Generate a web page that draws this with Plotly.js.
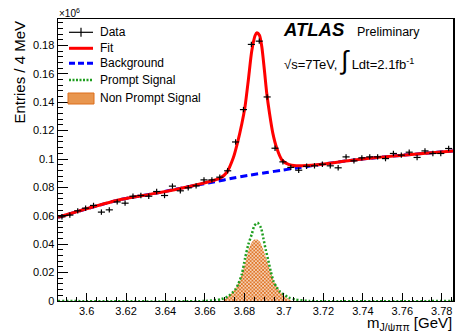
<!DOCTYPE html>
<html>
<head>
<meta charset="utf-8">
<script src="https://cdn.plot.ly/plotly-3.0.1.min.js"></script>
<style>html,body{margin:0;padding:0;background:#fff;}#chart{width:455px;height:331px;}</style>
</head>
<body>
<div id="chart"></div>
<script>
// ---- data (values in units of 10^6 entries) ----
const dataX = [3.5875,3.5915,3.5955,3.5995,3.6035,3.6075,3.6115,3.6155,3.6195,3.6235,
               3.6275,3.6315,3.6355,3.6395,3.6435,3.6475,3.6515,3.6555,3.6595,3.6635,
               3.6675,3.6715,3.6755,3.6795,3.6835,3.6875,3.6915,3.6955,3.6995,3.7035,
               3.7075,3.7115,3.7155,3.7195,3.7235,3.7275,3.7315,3.7355,3.7395,3.7435,
               3.7475,3.7515,3.7555,3.7595,3.7635,3.7675,3.7715,3.7755,3.7795,3.7835];
const dataY = [0.0593,0.0605,0.0635,0.0654,0.0673,0.0626,0.0642,0.0698,0.0689,0.0738,
               0.0743,0.0738,0.0771,0.0743,0.0809,0.0776,0.0797,0.0811,0.0853,0.0853,
               0.0872,0.0917,0.1120,0.1348,0.1807,0.1830,0.1437,0.1076,0.0980,0.0941,
               0.0921,0.0949,0.0952,0.0963,0.0952,0.0938,0.1015,0.0987,0.1008,0.1015,
               0.1015,0.1003,0.1039,0.1027,0.1048,0.1011,0.1057,0.1039,0.1039,0.1074];

const fitX = [3.5855,3.6009,3.6178,3.6347,3.6516,3.6620,3.6677,3.6710,3.6744,3.6764,
              3.6787,3.6803,3.6820,3.6837,3.6854,3.6863,3.6876,3.6888,3.6901,3.6913,
              3.6927,3.6944,3.6964,3.6989,3.7023,3.7062,3.7167,3.7336,3.7505,3.7674,3.7858];
const fitY = [0.0589,0.0653,0.0716,0.0758,0.0805,0.0840,0.0865,0.0905,0.1010,0.1110,
              0.1250,0.1370,0.1560,0.1760,0.1870,0.1889,0.1872,0.1790,0.1627,0.1463,
              0.1322,0.1181,0.1075,0.0995,0.0962,0.0953,0.0960,0.0990,0.1015,0.1035,0.1057];

const bgX = [3.5855,3.6009,3.6178,3.6347,3.6516,3.6651,3.6744,3.6830,3.6913,3.6989,
             3.7062,3.7167,3.7336,3.7505,3.7674,3.7858];
const bgY = [0.0589,0.0653,0.0716,0.0758,0.0805,0.0840,0.0866,0.0887,0.0905,0.0921,
             0.0936,0.0958,0.0990,0.1015,0.1035,0.1057];

const promptX = [3.5855,3.6600,3.6680,3.6720,3.6753,3.6769,3.6787,3.6803,3.6820,3.6837,
                 3.6850,3.6866,3.6884,3.6896,3.6908,3.6921,3.6933,3.6947,3.6964,3.6981,
                 3.7023,3.7060,3.7130,3.7858];
const promptY = [0,0,0.0012,0.0035,0.0080,0.0120,0.0190,0.0300,0.0400,0.0470,
                 0.0530,0.0551,0.0515,0.0440,0.0360,0.0285,0.0210,0.0140,0.0095,0.0065,
                 0.0025,0.0010,0,0];

const nonPromptX = [3.6690,3.6720,3.6744,3.6769,3.6787,3.6803,3.6817,3.6829,3.6845,3.6863,
                    3.6879,3.6896,3.6913,3.6930,3.6947,3.6972,3.7006,3.7040];
const nonPromptY = [0,0.0035,0.0070,0.0124,0.0190,0.0265,0.0340,0.0392,0.0428,0.0434,
                    0.0415,0.0360,0.0290,0.0218,0.0148,0.0085,0.0030,0];

const xTickVals = [3.6,3.62,3.64,3.66,3.68,3.7,3.72,3.74,3.76,3.78];
const xTickText = ["3.6","3.62","3.64","3.66","3.68","3.7","3.72","3.74","3.76","3.78"];
const yTickVals = [0,0.02,0.04,0.06,0.08,0.1,0.12,0.14,0.16,0.18];
const yTickText = ["0","0.02","0.04","0.06","0.08","0.1","0.12","0.14","0.16","0.18"];

const legendLabels = ["Data","Fit","Background","Prompt Signal","Non Prompt Signal"];

// ---- layout helpers (pixel -> paper) ----
const L = 58, R = 453, T = 19, B = 301;
const px = p => (p - L) / (R - L);
const py = p => (B - p) / (B - T);

const FONT = "Liberation Sans, Arial, Helvetica, sans-serif";
const RED = "#ff0000", BLUE = "#0000ff", GREEN = "#1f9e1f", ORANGE = "#dd6e1c";

const traces = [
  {x: bgX, y: bgY, mode: "lines", line: {color: BLUE, width: 3, dash: "7px,4px", shape: "spline", smoothing: 0.6}, hoverinfo: "skip"},
  {x: nonPromptX, y: nonPromptY, mode: "lines", fill: "tozeroy",
   fillcolor: "rgba(0,0,0,0)",
   fillpattern: {shape: "x", fgcolor: ORANGE, bgcolor: "#fff4ea", size: 2.5, solidity: 0.6},
   line: {width: 0, shape: "spline", smoothing: 0.6}, hoverinfo: "skip"},
  {x: promptX, y: promptY, mode: "lines", line: {color: GREEN, width: 2.5, dash: "2px,2px", shape: "spline", smoothing: 0.6}, hoverinfo: "skip"},
  {x: fitX, y: fitY, mode: "lines", line: {color: RED, width: 3, shape: "spline", smoothing: 0.7}, hoverinfo: "skip"},
  {x: dataX, y: dataY, mode: "markers", marker: {size: 1, color: "#000"},
   error_x: {type: "constant", value: 0.0018, width: 0, thickness: 1.2, color: "#000"},
   error_y: {type: "constant", value: 0.0019, width: 0, thickness: 1.2, color: "#000"},
   hoverinfo: "skip"}
];

// legend rows (pixel centres)
const rowY = [32.3, 48.3, 63.3, 80, 98.3];
const symL = 69, symR = 93, textL = 98;

const shapes = [
  {type: "line", xref: "paper", yref: "paper", x0: px(symL), x1: px(symR), y0: py(rowY[0]), y1: py(rowY[0]), line: {color: "#000", width: 1.2}},
  {type: "line", xref: "paper", yref: "paper", x0: px(81), x1: px(81), y0: py(rowY[0]-4.5), y1: py(rowY[0]+4.5), line: {color: "#000", width: 1.2}},
  {type: "line", xref: "paper", yref: "paper", x0: px(symL), x1: px(symR), y0: py(rowY[1]), y1: py(rowY[1]), line: {color: RED, width: 3}},
  {type: "line", xref: "paper", yref: "paper", x0: px(symL), x1: px(symR), y0: py(rowY[2]), y1: py(rowY[2]), line: {color: BLUE, width: 3, dash: "6px,3px"}},
  {type: "line", xref: "paper", yref: "paper", x0: px(symL), x1: px(symR), y0: py(rowY[3]), y1: py(rowY[3]), line: {color: GREEN, width: 2.5, dash: "2px,1.5px"}},
  {type: "rect", xref: "paper", yref: "paper", x0: px(68), x1: px(94), y0: py(104), y1: py(93), fillcolor: "#e8964f", line: {color: ORANGE, width: 1}}
];

const annotations = legendLabels.map((t, i) => ({
  text: t, xref: "paper", yref: "paper", x: px(textL), y: py(rowY[i]),
  xanchor: "left", yanchor: "middle", showarrow: false, font: {family: FONT, size: 12, color: "#000"}
}));

annotations.push(
  {text: "<b><i>ATLAS</i></b>", xref: "paper", yref: "paper", x: px(281), y: py(29.5), xanchor: "left", yanchor: "middle",
   showarrow: false, font: {family: FONT, size: 18.5, color: "#000"}},
  {text: "Preliminary", xref: "paper", yref: "paper", x: px(355), y: py(31.5), xanchor: "left", yanchor: "middle",
   showarrow: false, font: {family: FONT, size: 12.5, color: "#000"}},
  {text: "√s=7TeV, <span style=\"font-size:26px\">∫</span> Ldt=2.1fb<sup>-1</sup>", xref: "paper", yref: "paper", x: px(282), y: py(60),
   xanchor: "left", yanchor: "middle", showarrow: false, font: {family: FONT, size: 13, color: "#000"}},
  {text: "×10<sup>6</sup>", xref: "paper", yref: "paper", x: px(57), y: py(13), xanchor: "left", yanchor: "middle",
   showarrow: false, font: {family: FONT, size: 10, color: "#000"}},
  {text: "Entries / 4 MeV", xref: "paper", yref: "paper", x: px(18.5), y: py(72), xanchor: "center", yanchor: "middle",
   textangle: -90, showarrow: false, font: {family: FONT, size: 15, color: "#000"}},
  {text: "m<sub>J/ψππ</sub> [GeV]", xref: "paper", yref: "paper", x: px(454), y: py(323), xanchor: "right", yanchor: "middle",
   showarrow: false, font: {family: FONT, size: 15, color: "#000"}}
);

const layout = {
  width: 455, height: 331,
  margin: {l: L, r: 455 - R, t: T, b: 331 - B, pad: 0},
  paper_bgcolor: "#fff", plot_bgcolor: "#fff",
  showlegend: false,
  font: {family: FONT, size: 11, color: "#000"},
  xaxis: {
    range: [3.5855, 3.7857], showgrid: false, zeroline: false,
    showline: true, mirror: true, linecolor: "#000", linewidth: 1,
    ticks: "inside", ticklen: 8, tickwidth: 1, tickcolor: "#000",
    tickmode: "array", tickvals: xTickVals, ticktext: xTickText,
    tickfont: {family: FONT, size: 11, color: "#000"},
    minor: {tickmode: "linear", tick0: 3.6, dtick: 0.005, ticks: "inside", ticklen: 4, tickwidth: 1, tickcolor: "#000", showgrid: false}
  },
  yaxis: {
    range: [0, 0.1986], showgrid: false, zeroline: false,
    showline: true, mirror: true, linecolor: "#000", linewidth: 1.5,
    ticks: "inside", ticklen: 10, tickwidth: 1, tickcolor: "#000",
    tickmode: "array", tickvals: yTickVals, ticktext: yTickText,
    tickfont: {family: FONT, size: 11, color: "#000"},
    minor: {tickmode: "linear", tick0: 0, dtick: 0.004, ticks: "inside", ticklen: 5, tickwidth: 1, tickcolor: "#000", showgrid: false}
  },
  shapes: shapes,
  annotations: annotations
};

Plotly.newPlot("chart", traces, layout, {staticPlot: true, displayModeBar: false});
</script>
</body>
</html>
